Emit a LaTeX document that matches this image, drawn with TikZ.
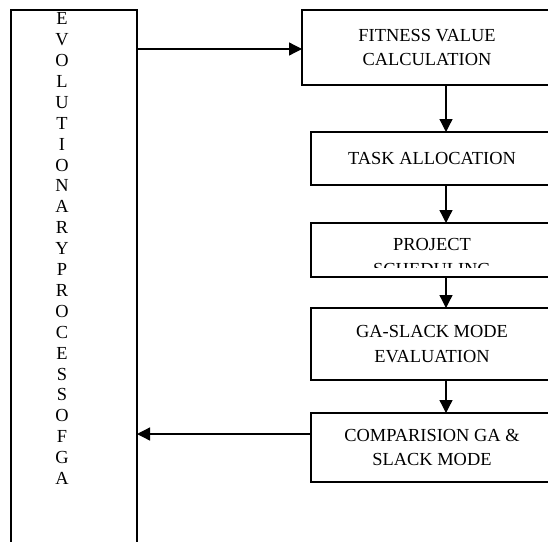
\documentclass[tikz,border=0pt]{standalone}
\usepackage{fontspec}
\setmainfont{Liberation Serif}
\usetikzlibrary{arrows.meta}
\tikzset{>={Triangle[length=13pt,width=13pt]}}
\tikzset{
  stage/.style = {
    draw, line width=1.3pt, inner sep=0pt, outer sep=0pt,
    anchor=north west, align=center,
    font=\fontsize{18.4}{24.5}\selectfont
  }
}
\begin{document}
\begin{tikzpicture}[x=1pt,y=-1pt,line width=1.3pt]
  \clip (0,0) rectangle (548,541);
  \node[stage,minimum width=126,minimum height=560] (evo) at (11,10) {};
  \node[inner sep=0pt,anchor=north,align=center,
    font=\fontsize{18.4}{20.9}\selectfont] (evoText) at (62,12)
    {E\\V\\O\\L\\U\\T\\I\\O\\N\\A\\R\\Y\\P\\R\\O\\C\\E\\S\\S\\O\\F\\G\\A};
  \node[stage,minimum width=250,minimum height=75] (fit) at (302,10)
    {FITNESS VALUE\\CALCULATION};
  \node[stage,minimum width=242,minimum height=53] (task) at (311,132)
    {TASK ALLOCATION};
  \node[stage,minimum width=242,minimum height=54] (proj) at (311,223) {};
  \begin{scope}
    \clip (312,224) rectangle (552,267);
    \node[inner sep=0pt,align=center,font=\fontsize{18.4}{24.5}\selectfont]
      (projText) at (432,257) {PROJECT\\SCHEDULING};
  \end{scope}
  \node[stage,minimum width=242,minimum height=72] (ga) at (311,308)
    {GA-SLACK MODE\\EVALUATION};
  \node[stage,minimum width=242,minimum height=69] (comp) at (311,413)
    {COMPARISION GA \&\\SLACK MODE};
  \coordinate (spine) at (446,0);
  \draw[->] (evo.east |- 0,49) -- (fit.west |- 0,49);
  \draw[->] (fit.south -| spine) -- (task.north -| spine);
  \draw[->] (task.south -| spine) -- (proj.north -| spine);
  \draw[->] (proj.south -| spine) -- (ga.north -| spine);
  \draw[->] (ga.south -| spine) -- (comp.north -| spine);
  \draw[->] (comp.west |- 0,434) -- (evo.east |- 0,434);
\end{tikzpicture}
\end{document}
